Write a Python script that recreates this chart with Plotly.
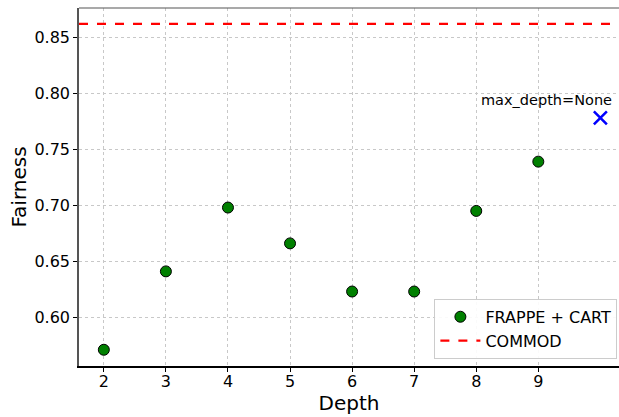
import plotly.graph_objects as go

depths = [2, 3, 4, 5, 6, 7, 8, 9]
fairness = [0.571, 0.641, 0.698, 0.666, 0.623, 0.623, 0.695, 0.739]
none_depth = [10]
none_fairness = [0.778]
commod_value = 0.862
x_ticks = [2, 3, 4, 5, 6, 7, 8, 9]
y_ticks = [0.60, 0.65, 0.70, 0.75, 0.80, 0.85]

FONT = "DejaVu Sans"

fig = go.Figure()

fig.add_trace(go.Scatter(
    x=depths, y=fairness, mode="markers", name="FRAPPE + CART",
    marker=dict(color="#008000", size=11, line=dict(color="black", width=1)),
))
fig.add_trace(go.Scatter(
    x=[1.6, 10.3], y=[commod_value, commod_value], mode="lines", name="COMMOD",
    line=dict(color="red", width=2.2, dash="dash"),
))
fig.add_trace(go.Scatter(
    x=none_depth, y=none_fairness, mode="markers", showlegend=False,
    marker=dict(symbol="x-thin", color="blue", size=13, line=dict(color="blue", width=2.5)),
))

fig.add_annotation(
    x=none_depth[0], y=none_fairness[0], text="max_depth=None", showarrow=False,
    xanchor="center", yanchor="bottom", xshift=-54, yshift=8,
    font=dict(family=FONT, size=14.5, color="black"),
)

fig.add_shape(type="line", xref="paper", yref="paper", x0=0, x1=1, y0=1, y1=1,
              line=dict(color="#555555", width=1.2))

fig.update_layout(
    width=619, height=417,
    margin=dict(l=79, r=0, t=8, b=51, autoexpand=False),
    paper_bgcolor="white", plot_bgcolor="white",
    font=dict(family=FONT, color="black"),
    showlegend=True,
    legend=dict(
        x=0.997, y=0.02, xanchor="right", yanchor="bottom",
        bgcolor="rgba(255,255,255,0.9)", bordercolor="#cccccc", borderwidth=1,
        font=dict(family=FONT, size=16),
        itemwidth=40,
    ),
    xaxis=dict(
        range=[1.6, 10.3], tickvals=x_ticks, ticktext=[str(t) for t in x_ticks],
        showgrid=True, gridcolor="#c8c8c8", griddash="dot", gridwidth=0.8,
        showline=True, linecolor="black", linewidth=1.5,
        ticks="outside", ticklen=4, tickcolor="black",
        ticklabelstandoff=-4,
        tickfont=dict(family=FONT, size=16),
        title=dict(text="Depth", font=dict(family=FONT, size=20), standoff=0),
        zeroline=False,
    ),
    yaxis=dict(
        range=[0.5565, 0.8762], tickvals=y_ticks, ticktext=[f"{t:.2f}" for t in y_ticks],
        showgrid=True, gridcolor="#c8c8c8", griddash="dot", gridwidth=0.8,
        showline=True, linecolor="#555555", linewidth=1.5,
        ticks="outside", ticklen=4, tickcolor="black",
        tickfont=dict(family=FONT, size=16),
        title=dict(text="Fairness", font=dict(family=FONT, size=20), standoff=2),
        zeroline=False,
    ),
)

fig.write_html(
    "out.html",
    config={"displayModeBar": False},
    post_script="document.body.style.margin='0';document.body.style.overflow='hidden';",
)
